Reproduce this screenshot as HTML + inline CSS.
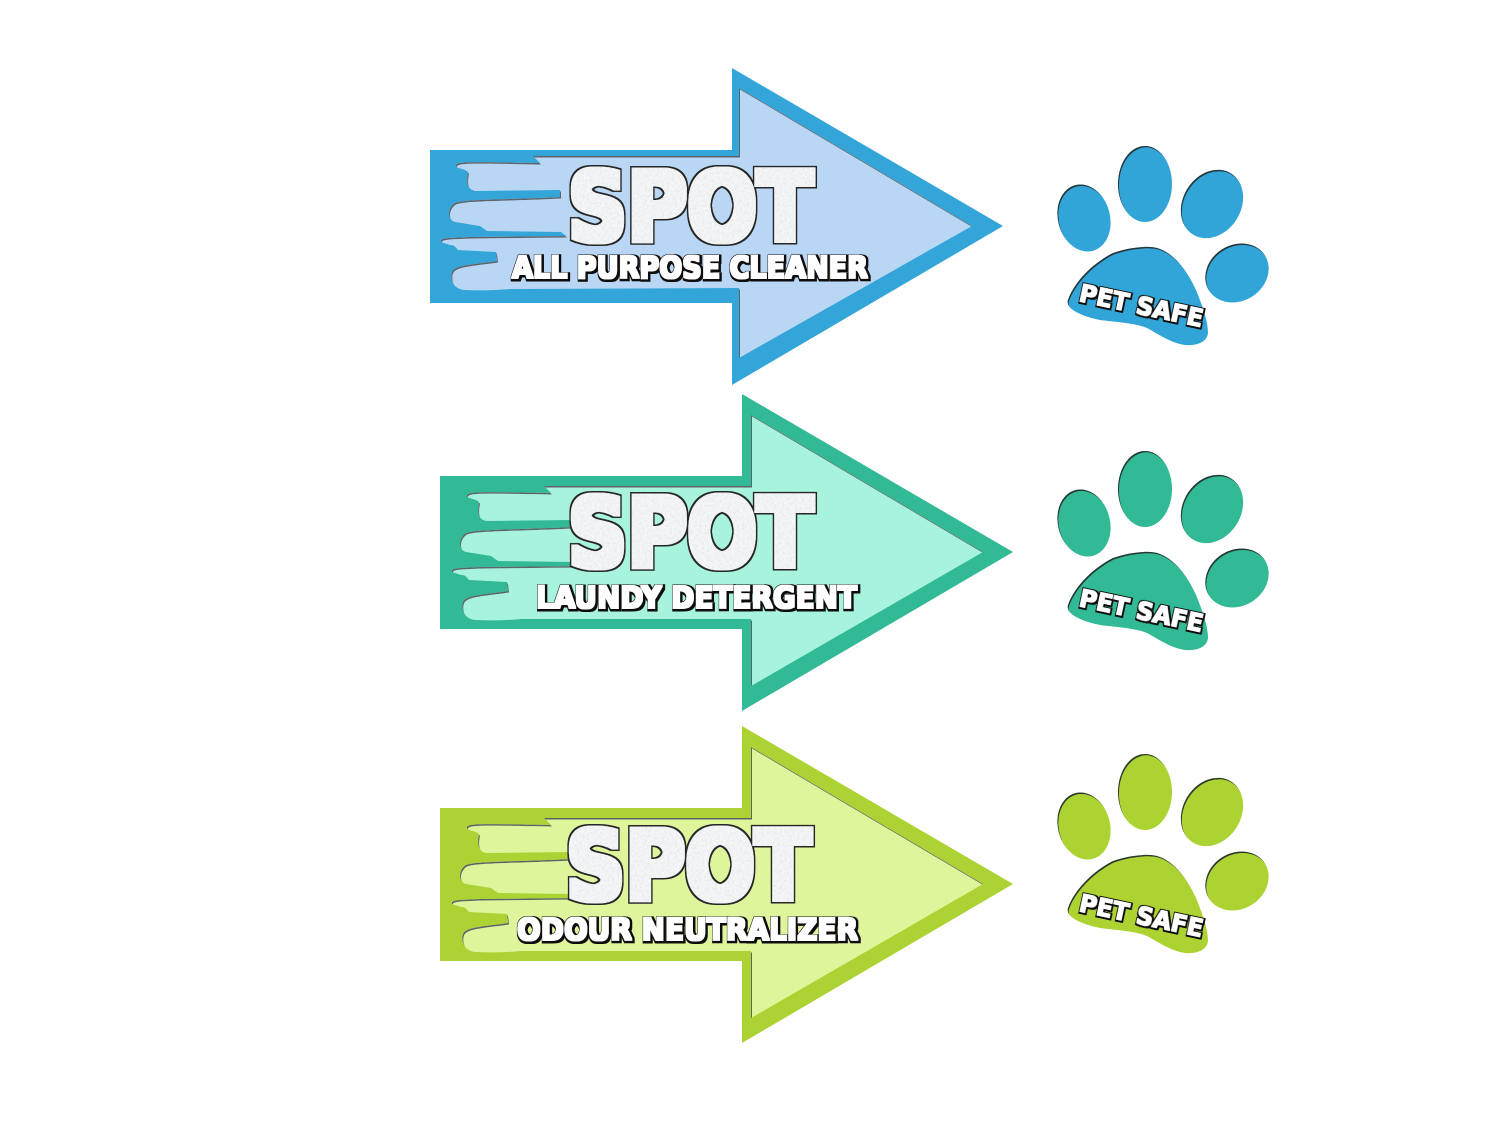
<!DOCTYPE html>
<html>
<head>
<meta charset="utf-8">
<style>
html,body{margin:0;padding:0;background:#fff}
svg{display:block}
.t{font-family:"DejaVu Sans","Liberation Sans",sans-serif;font-weight:bold}
.big{font-size:95px;fill:#f4f6f7;filter:url(#bigf)}
.sub{font-size:30px;fill:#fff;filter:url(#subf)}
.pet{font-size:25px;fill:#fff;filter:url(#petf)}
.inner{filter:url(#inset)}
.paw{filter:url(#insetp)}
</style>
</head>
<body>
<svg width="1500" height="1123" viewBox="0 0 1500 1123" xmlns="http://www.w3.org/2000/svg">
<defs>
<filter id="inset" x="-2%" y="-2%" width="104%" height="104%">
  <feOffset in="SourceAlpha" dx="0.9" dy="1.4" result="o"/>
  <feComposite in="SourceAlpha" in2="o" operator="out" result="e"/>
  <feFlood flood-color="#5d6468"/>
  <feComposite in2="e" operator="in" result="d"/>
  <feMerge><feMergeNode in="SourceGraphic"/><feMergeNode in="d"/></feMerge>
</filter>
<filter id="insetp" x="-2%" y="-2%" width="104%" height="104%">
  <feOffset in="SourceAlpha" dx="0.8" dy="1.3" result="o"/>
  <feComposite in="SourceAlpha" in2="o" operator="out" result="e"/>
  <feFlood flood-color="#2a3436"/>
  <feComposite in2="e" operator="in" result="d"/>
  <feMerge><feMergeNode in="SourceGraphic"/><feMergeNode in="d"/></feMerge>
</filter>
<filter id="bigf" x="-5%" y="-15%" width="110%" height="130%">
  <feMorphology in="SourceAlpha" operator="dilate" radius="4.3" result="a"/>
  <feFlood flood-color="#262626"/>
  <feComposite in2="a" operator="in" result="line"/>
  <feMorphology in="SourceGraphic" operator="dilate" radius="2.8" result="body"/>
  <feTurbulence type="fractalNoise" baseFrequency="0.4" numOctaves="2" seed="4" result="n"/>
  <feColorMatrix in="n" type="matrix" values="0 0 0 0 .55  0 0 0 0 .58  0 0 0 0 .6  0.7 0 0 0 -0.28" result="g"/>
  <feComposite in="g" in2="body" operator="in" result="tex"/>
  <feMerge><feMergeNode in="line"/><feMergeNode in="body"/><feMergeNode in="tex"/></feMerge>
</filter>
<filter id="subf" x="-3%" y="-20%" width="106%" height="140%">
  <feMorphology in="SourceAlpha" operator="dilate" radius="2.4" result="a"/>
  <feOffset in="a" dx="0.8" dy="0.8" result="a2"/>
  <feFlood flood-color="#0d0d0d"/>
  <feComposite in2="a2" operator="in" result="line"/>
  <feMorphology in="SourceGraphic" operator="dilate" radius="0.8" result="body"/>
  <feMerge><feMergeNode in="line"/><feMergeNode in="body"/></feMerge>
</filter>
<filter id="petf" x="-5%" y="-25%" width="110%" height="150%">
  <feMorphology in="SourceAlpha" operator="dilate" radius="2" result="a"/>
  <feOffset in="a" dx="0.6" dy="0.6" result="a2"/>
  <feFlood flood-color="#0d0d0d"/>
  <feComposite in2="a2" operator="in" result="line"/>
  <feMorphology in="SourceGraphic" operator="dilate" radius="0.7" result="body"/>
  <feMerge><feMergeNode in="line"/><feMergeNode in="body"/></feMerge>
</filter>
<polygon id="outer" points="430,150 732,150 732,68 1003,226 732,385 732,303 430,303"/>
<path id="inner" d="M739 156 L739 88 L972 226 L739 358 L739 288 L510 289 Q490 291 465 290 C452 289 450 278 452 272 C455 265 470 265 497 261 L496 252 L458 250 C455 247 455 245 450 245 L441 242 C440 238 445 238 470 237 L566 236 L561 232 L487 231 L480 226 L455 222 C447 220 447 208 455 203 C465 199 500 200 560 197 L560 190 L475 191 C467 189 466 183 468 172 C464 168 455 169 456 165 C458 161 475 162 540 163 L533 156 Z"/>
<path id="inner2" d="M741 160 L741 89 L973 226 L741 360 L741 293 L511 293 Q491 295 466 294 C453 293 451 282 453 276 C456 269 471 269 498 265 L497 256 L459 254 C456 251 456 249 451 249 L442 246 C441 242 446 242 471 241 L567 240 L562 236 L488 235 L481 230 L456 226 C448 224 448 212 456 207 C466 203 501 204 561 201 L561 194 L476 195 C468 193 467 187 469 176 C465 172 456 173 457 169 C459 165 476 166 541 167 L534 160 Z"/>
<g id="pawshape">
<ellipse cx="1084" cy="218" rx="26" ry="34" transform="rotate(-15 1084 218)"/>
<ellipse cx="1145" cy="184" rx="27" ry="38"/>
<ellipse cx="1212" cy="204" rx="29" ry="36" transform="rotate(32 1212 204)"/>
<ellipse cx="1237" cy="273" rx="28" ry="33" transform="rotate(58 1237 273)"/>
<path d="M1068 300 C1075 280 1095 262 1113 253 C1130 247 1150 245 1160 249 C1178 256 1190 277 1196 290 C1203 307 1208 322 1208 333 C1207 343 1195 346 1185 345 C1170 343 1155 332 1147 328 C1135 323 1115 322 1100 320 C1085 317 1065 310 1068 300Z"/>
</g>
</defs>

<!-- Blue -->
<use href="#outer" fill="#33a5d8"/>
<use href="#inner" fill="#b9d7f5" class="inner"/>
<text class="t big" x="568" y="240" textLength="245" lengthAdjust="spacingAndGlyphs">SPOT</text>
<text class="t sub" x="512" y="278" textLength="356" lengthAdjust="spacingAndGlyphs">ALL PURPOSE CLEANER</text>
<use href="#pawshape" fill="#33a5d8" class="paw"/>
<text class="t pet" transform="translate(1078 301) rotate(12)" textLength="126" lengthAdjust="spacingAndGlyphs">PET SAFE</text>

<!-- Teal -->
<g transform="translate(10 326)">
<use href="#outer" fill="#32b995"/>
<use href="#inner2" fill="#a7f3dd" class="inner"/>
</g>
<text class="t big" x="568" y="566" textLength="245" lengthAdjust="spacingAndGlyphs">SPOT</text>
<text class="t sub" x="536" y="608" textLength="321" lengthAdjust="spacingAndGlyphs">LAUNDY DETERGENT</text>
<g transform="translate(0 305)"><use href="#pawshape" fill="#32b995" class="paw"/></g>
<text class="t pet" transform="translate(1078 606) rotate(12)" textLength="126" lengthAdjust="spacingAndGlyphs">PET SAFE</text>

<!-- Green -->
<g transform="translate(10 658)">
<use href="#outer" fill="#acd333"/>
<use href="#inner2" fill="#dff59c" class="inner"/>
</g>
<text class="t big" x="566" y="899" textLength="245" lengthAdjust="spacingAndGlyphs">SPOT</text>
<text class="t sub" x="517" y="940" textLength="341" lengthAdjust="spacingAndGlyphs">ODOUR NEUTRALIZER</text>
<g transform="translate(0 608)"><use href="#pawshape" fill="#acd333" class="paw"/></g>
<text class="t pet" transform="translate(1078 911) rotate(12)" textLength="126" lengthAdjust="spacingAndGlyphs">PET SAFE</text>
</svg>
</body>
</html>
